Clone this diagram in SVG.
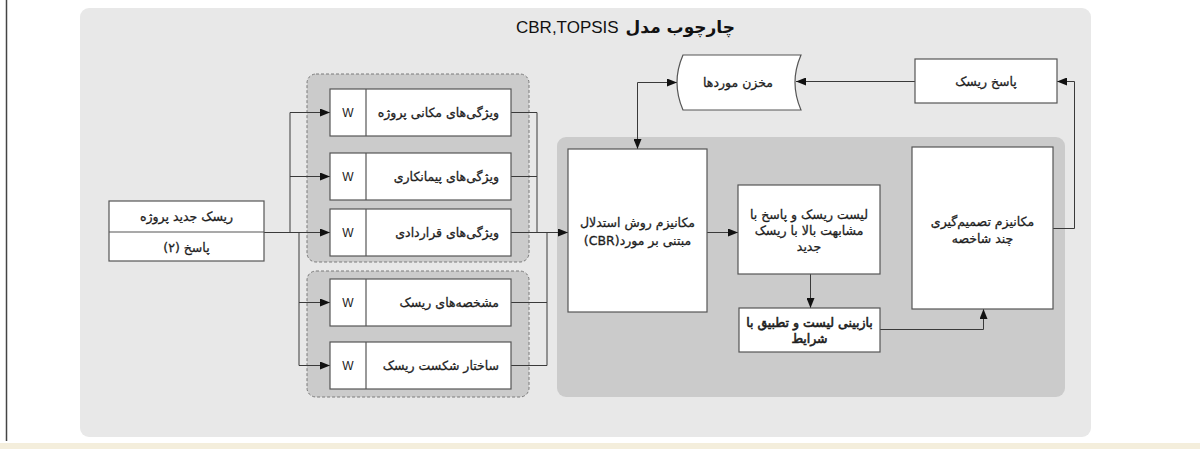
<svg xmlns="http://www.w3.org/2000/svg" width="1200" height="449" viewBox="0 0 1200 449">
<defs>
<marker id="ah" viewBox="0 0 10 8" markerWidth="10" markerHeight="8" refX="10" refY="4" orient="auto-start-reverse" markerUnits="userSpaceOnUse">
<path d="M0,0 L10,4 L0,8 Z" fill="#111"/>
</marker>
<style>
.box{fill:#fff;stroke:#555;stroke-width:1.2}
.grp{fill:#cbcbcb;stroke:#7a7a7a;stroke-width:1;stroke-dasharray:3 2}
.fa{font-family:"DejaVu Sans","Noto Sans",sans-serif;font-size:12.5px;fill:#1e1e1e;stroke:#1e1e1e;stroke-width:0.3;direction:rtl}
.w{font-family:"Liberation Sans",Arial,sans-serif;font-size:12px;fill:#222;text-anchor:middle}
.c{fill:none;stroke:#3a3a3a;stroke-width:1}
.ca{fill:none;stroke:#3a3a3a;stroke-width:1;marker-end:url(#ah)}
</style>
</defs>
<rect x="0" y="0" width="1200" height="449" fill="#ffffff"/>
<rect x="0" y="443" width="1200" height="6" fill="#f4eedc"/>
<line x1="6.5" y1="0" x2="6.5" y2="441" stroke="#444" stroke-width="1.5"/>
<rect x="80" y="8" width="1011" height="429" rx="9" fill="#e8e8e8"/>

<g id="title">
<text x="516" y="33" font-family="Liberation Sans,Arial,sans-serif" font-size="17" fill="#111">CBR,TOPSIS</text>
<text x="735" y="33" font-family="DejaVu Sans,sans-serif" font-size="17" font-weight="bold" fill="#111" text-anchor="end">چارچوب مدل</text>
</g>

<rect id="group-project" class="grp" x="307" y="74" width="222" height="188" rx="9"/>
<rect id="group-risk" class="grp" x="307" y="271" width="222" height="126" rx="9"/>
<rect id="process-area" x="557" y="137" width="508" height="260" rx="9" fill="#cbcbcb"/>

<g id="connectors">
<path class="c" d="M290,112.5 V232.5"/>
<path class="ca" d="M290,112.5 H330"/>
<path class="ca" d="M290,176.5 H330"/>
<path class="ca" d="M264,232.5 H330"/>
<path class="c" d="M299,232.5 V365.5"/>
<path class="ca" d="M299,302.5 H330"/>
<path class="ca" d="M299,365.5 H330"/>
<path class="c" d="M511,112.5 H537 V232.5"/>
<path class="c" d="M511,176.5 H537"/>
<path class="ca" d="M511,232.5 H568"/>
<path class="c" d="M511,302.5 H547"/>
<path class="c" d="M511,365.5 H547 V232.5"/>
<path class="ca" d="M707,232.5 H738"/>
<path class="ca" d="M810.5,274 V308"/>
<path class="ca" d="M880,329.5 H983.5 V309"/>
<path class="ca" d="M1053,228.5 H1074.5 V81.5 H1057"/>
<path class="ca" d="M915,81.5 H796"/>
<path class="c" d="M677,82.5 H637.5 V149" marker-start="url(#ah)" marker-end="url(#ah)"/>
</g>

<g id="new-risk">
<rect class="box" x="109" y="201" width="155" height="60"/>
<line x1="109" y1="232" x2="264" y2="232" stroke="#555" stroke-width="1.2"/>
<text class="fa" x="186.5" y="221" text-anchor="middle">ریسک جدید پروژه</text>
<text class="fa" x="186.5" y="252" text-anchor="middle">پاسخ (۲)</text>
</g>

<g id="f1">
<rect class="box" x="330" y="89" width="181" height="47"/>
<line x1="366" y1="89" x2="366" y2="136" stroke="#555" stroke-width="1.2"/>
<text class="w" x="348" y="117">W</text>
<text class="fa" x="499" y="117" text-anchor="start">ویژگی‌های مکانی پروژه</text>
</g>
<g id="f2">
<rect class="box" x="330" y="153" width="181" height="47"/>
<line x1="366" y1="153" x2="366" y2="200" stroke="#555" stroke-width="1.2"/>
<text class="w" x="348" y="181">W</text>
<text class="fa" x="499" y="181" text-anchor="start">ویژگی‌های پیمانکاری</text>
</g>
<g id="f3">
<rect class="box" x="330" y="209" width="181" height="47"/>
<line x1="366" y1="209" x2="366" y2="256" stroke="#555" stroke-width="1.2"/>
<text class="w" x="348" y="237">W</text>
<text class="fa" x="499" y="237" text-anchor="start">ویژگی‌های قراردادی</text>
</g>
<g id="f4">
<rect class="box" x="330" y="279" width="181" height="47"/>
<line x1="366" y1="279" x2="366" y2="326" stroke="#555" stroke-width="1.2"/>
<text class="w" x="348" y="307">W</text>
<text class="fa" x="499" y="307" text-anchor="start">مشخصه‌های ریسک</text>
</g>
<g id="f5">
<rect class="box" x="330" y="342" width="181" height="47"/>
<line x1="366" y1="342" x2="366" y2="389" stroke="#555" stroke-width="1.2"/>
<text class="w" x="348" y="370">W</text>
<text class="fa" x="499" y="370" text-anchor="start">ساختار شکست ریسک</text>
</g>

<g id="case-base">
<path class="box" d="M683,55 H801 Q789,82.5 801,110 H683 Q671,82.5 683,55 Z"/>
<text class="fa" x="738" y="87" text-anchor="middle">مخزن موردها</text>
</g>

<g id="risk-response">
<rect class="box" x="915" y="59" width="142" height="44"/>
<text class="fa" x="986" y="86" text-anchor="middle">پاسخ ریسک</text>
</g>

<g id="cbr">
<rect class="box" x="568" y="149" width="139" height="163"/>
<text class="fa" x="637.5" y="227" text-anchor="middle">مکانیزم روش استدلال</text>
<text class="fa" x="637.5" y="245" text-anchor="middle">مبتنی بر مورد(CBR)</text>
</g>

<g id="similar-list">
<rect class="box" x="738" y="185" width="142" height="89"/>
<text class="fa" x="809" y="219" text-anchor="middle">لیست ریسک و پاسخ با</text>
<text class="fa" x="809" y="235" text-anchor="middle">مشابهت بالا با ریسک</text>
<text class="fa" x="809" y="251" text-anchor="middle">جدید</text>
</g>

<g id="review">
<rect class="box" x="739" y="308" width="141" height="44"/>
<text class="fa" x="809.5" y="327" text-anchor="middle" style="stroke-width:0.6">بازبینی لیست و تطبیق با</text>
<text class="fa" x="809.5" y="343" text-anchor="middle" style="stroke-width:0.6">شرایط</text>
</g>

<g id="mcdm">
<rect class="box" x="912" y="147" width="141" height="162"/>
<text class="fa" x="982.5" y="226" text-anchor="middle">مکانیزم تصمیم‌گیری</text>
<text class="fa" x="982.5" y="243" text-anchor="middle">چند شاخصه</text>
</g>
</svg>
